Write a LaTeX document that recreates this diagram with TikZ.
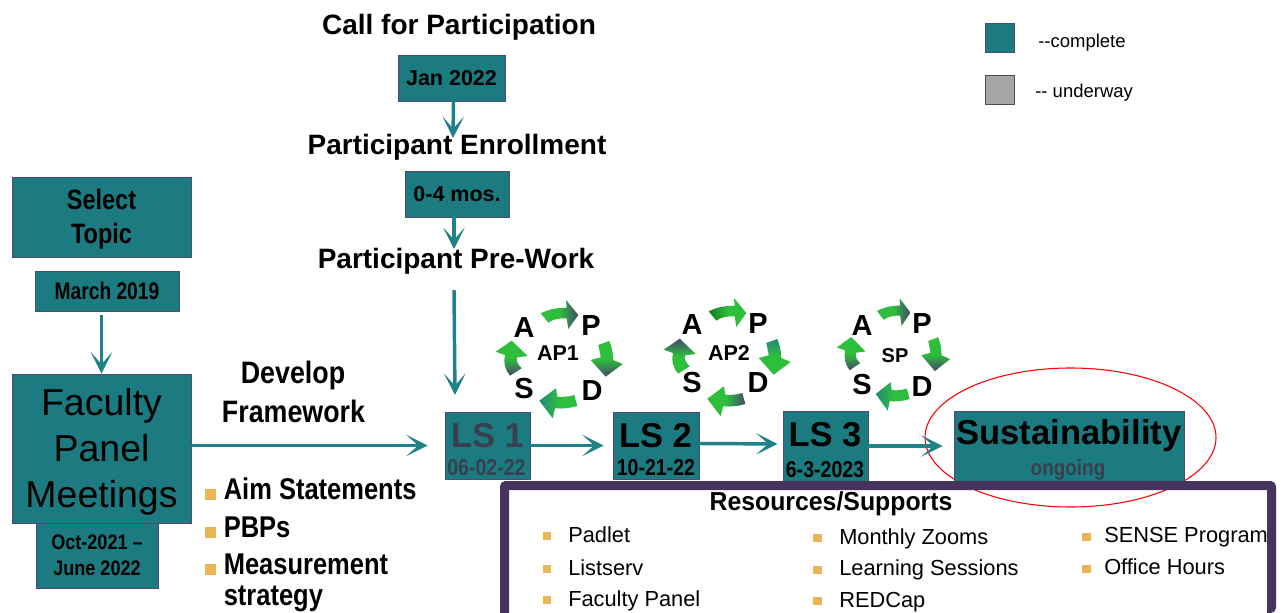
\documentclass[tikz,border=0pt]{standalone}
\usepackage{fontspec}
\usepackage{graphicx}
\setmainfont{Liberation Sans}
\usetikzlibrary{arrows.meta,shapes.geometric}
\definecolor{tealbox}{HTML}{1C7B80}
\definecolor{boxedge}{HTML}{4F4A7A}
\definecolor{panel}{HTML}{46345F}
\definecolor{arrowteal}{HTML}{1F8286}
\definecolor{bul}{HTML}{E8B654}
\definecolor{gr}{HTML}{2DBE3C}
\definecolor{dk}{HTML}{45486A}
\definecolor{dgr}{HTML}{0F7A1E}
\definecolor{tl}{HTML}{1F8A7A}
\definecolor{dim}{HTML}{36404F}
\definecolor{greybox}{HTML}{A6A6A6}
\newcommand\fpx[2]{\fontsize{\fpeval{#1*.75}}{\fpeval{#2*.75}}\selectfont}
\newcommand\cond[2]{\scalebox{#1}[1]{#2}}
\tikzset{
  x=0.75pt,y=-0.75pt,
  box/.style={draw=boxedge,line width=.7pt,fill=tealbox,inner sep=0pt,align=center,text=black},
  flow/.style={draw=arrowteal,line width=2.6pt,-{Stealth[length=16pt,width=16pt,inset=9pt]}},
  txt/.style={inner sep=0pt,anchor=base,font=\bfseries},
  ltxt/.style={inner sep=0pt,anchor=base west},
  bulletsq/.style={fill=bul,inner sep=0pt,draw=none},
}
\newcommand\cycarrows[5]{%
 \begin{scope}[#1]
  \shade[#2] (540.7,313.3) .. controls (552,308) and (558,308) .. (566.7,307.7) -- (566,300) -- (578.3,315) -- (568.3,329) -- (566.7,318.3) .. controls (560,318) and (553,319) .. (548.3,322.7) -- cycle;
  \shade[#3] (598.3,345) -- (609.3,341) .. controls (612,347) and (613,353) .. (613.3,360) -- (622.7,364) -- (605.7,376.7) -- (590.7,360) -- (600.7,357.3) .. controls (600,352) and (599,349) .. (598.3,345) -- cycle;
  \shade[#4] (577.3,406) -- (574.3,395) .. controls (568,397) and (563,397) .. (557.3,396.7) -- (556,388.3) -- (539.3,400.7) -- (552.7,418.3) -- (555,408.3) .. controls (563,409) and (571,408) .. (577.3,406) -- cycle;
  \shade[#5] (510,375.7) -- (521.7,368.3) .. controls (517,364) and (516,360) .. (517.3,357.3) -- (527.7,356) -- (511.7,340.7) -- (495.7,351.7) -- (505,355) .. controls (503,362) and (505,370) .. (510,375.7) -- cycle;
 \end{scope}}
\newcommand\cycletter[4]{\node[txt,font=\bfseries\fpx{29}{32}] (#1) at (#2,#3) {#4};}
\begin{document}
\begin{tikzpicture}
\useasboundingbox (0,0) rectangle (1282,613);
\fill[white] (0,0) rectangle (1282,613);

% ellipse first: boxes and panel lie over it
\node[draw=red,line width=.8pt,ellipse,inner sep=0pt,minimum width=218.25pt,minimum height=104.25pt] (halo) at (1070.5,437.5) {};

% left column
\node[box,minimum width=134.25pt,minimum height=60pt,font=\bfseries\fpx{28}{34}] (select) at (101.5,217) {\rule{0pt}{18pt}\cond{.84}{Select}\\\cond{.84}{Topic}};
\node[box,minimum width=108pt,minimum height=30pt,font=\bfseries\fpx{24}{28}] (march) at (107,291) {\cond{.8}{March 2019}};
\node[box,minimum width=91.5pt,minimum height=48.75pt,font=\bfseries\fpx{21}{25.5}] (oct) at (97,555.5) {\cond{.86}{Oct-2021 –}\\\cond{.86}{June 2022}};
\node[box,minimum width=134.25pt,minimum height=111.75pt,font=\fpx{37.5}{46}] (faculty) at (101.5,448.5) {\rule{0pt}{26pt}Faculty\\Panel\\Meetings};

% centre column
\node[txt,font=\bfseries\fpx{28}{32}] (call) at (459,35) {Call for Participation};
\node[box,minimum width=80.25pt,minimum height=34.5pt,font=\bfseries\fpx{21.5}{26}] (jan) at (451.5,78) {Jan 2022};
\node[txt,font=\bfseries\fpx{28}{32}] (enroll) at (457,155) {Participant Enrollment};
\node[box,minimum width=78pt,minimum height=34.5pt,font=\bfseries\fpx{21.5}{26}] (zero) at (457,194) {0-4 mos.};
\node[txt,font=\bfseries\fpx{28}{32}] (prework) at (456,268) {Participant Pre-Work};
\coordinate (enrolltip) at (453,138);
\coordinate (zerotip) at (454,249);
\coordinate (preworkend) at (454,290);
\coordinate (lstip) at (455,395);

% develop framework
\node[txt,font=\bfseries\fpx{31}{36}] (develop) at (293,383) {\cond{.865}{Develop}};
\node[txt,font=\bfseries\fpx{31}{36}] (framework) at (293.5,422) {\cond{.865}{Framework}};
\foreach \n/\yb/\yt/\t in {a/494/499/Aim Statements,b/532/537/PBPs,c/569/574/Measurement}{
  \node[bulletsq,minimum width=8.25pt,minimum height=8.25pt] (fb\n) at (210.5,\yb) {};
  \node[ltxt,font=\bfseries\fpx{30}{34}] (ft\n) at (223.5,\yt) {\cond{.85}{\t}};
}
\node[ltxt,font=\bfseries\fpx{30}{34}] (ftd) at (223.5,605) {\cond{.85}{strategy}};

% learning sessions
\node[box,minimum width=63.75pt,minimum height=50.25pt] (lsone) at (487.5,445.5) {};
\node[box,minimum width=64.5pt,minimum height=50.25pt] (lstwo) at (656,445.5) {};
\node[box,minimum width=63.75pt,minimum height=52.5pt] (lsthree) at (825.5,446) {};
\node[box,minimum width=172.5pt,minimum height=52.5pt] (sust) at (1069,446) {};
\node[txt,text=dim,font=\bfseries\fpx{34.5}{38}] (lsonet) at (487.5,447) {LS 1};
\node[txt,text=dim,font=\bfseries\fpx{23}{26}] (lsoned) at (486.5,475) {\cond{.85}{06-02-22}};
\node[txt,font=\bfseries\fpx{34.5}{38}] (lstwot) at (655.5,447) {LS 2};
\node[txt,font=\bfseries\fpx{23}{26}] (lstwod) at (656,475) {\cond{.85}{10-21-22}};
\node[txt,font=\bfseries\fpx{34.5}{38}] (lsthreet) at (825,446) {LS 3};
\node[txt,font=\bfseries\fpx{23}{26}] (lsthreed) at (825,477) {\cond{.85}{6-3-2023}};
\node[txt,font=\bfseries\fpx{34.6}{40}] (sustt) at (1069,444) {Sustainability};
\node[txt,text=dim,font=\bfseries\fpx{22}{26}] (sustd) at (1068,475) {\cond{.86}{ongoing}};

% connectors
\draw[flow] ([xshift=1.5pt]jan.south) -- (enrolltip);
\draw[flow] ([xshift=-2.25pt]zero.south) -- (zerotip);
\draw[flow] (preworkend) -- (lstip);
\draw[flow,shorten <=3pt] (march.south -| faculty.north) -- (faculty.north);
\draw[flow,shorten >=12.75pt] (faculty.east |- lsone.west) -- (lsone.west);
\draw[flow,shorten >=6.75pt] (lsone.east) -- (lstwo.west);
\draw[flow,shorten >=3.75pt] ([yshift=1.5pt]lstwo.east) -- ([yshift=1.5pt]lsthree.west);
\draw[flow,shorten >=8.25pt] (lsthree.east) -- (sust.west);

% PDSA cycles
\cycarrows{}{left color=gr,right color=dk,middle color=gr}{top color=gr,bottom color=dk,middle color=gr}{right color=gr,left color=tl,middle color=gr}{bottom color=dk,top color=gr,middle color=gr}
\cycarrows{shift={(168,-2)}}{left color=dgr,right color=gr,middle color=gr}{top color=tl,bottom color=gr,middle color=gr}{left color=gr,right color=dk,middle color=gr}{bottom color=gr,top color=dk,middle color=gr}
\cycarrows{shift={(395.8,13.3)},xscale=.89,yscale=.95}{left color=gr,right color=dk,middle color=gr}{top color=gr,bottom color=dk,middle color=gr}{right color=gr,left color=tl,middle color=gr}{bottom color=dk,top color=gr,middle color=gr}
\cycletter{aa}{524}{337}{A}\cycletter{ap}{591}{335}{P}\cycletter{as}{524}{398}{S}\cycletter{ad}{592}{400}{D}
\cycletter{ba}{692}{334}{A}\cycletter{bp}{758}{333}{P}\cycletter{bs}{692}{392}{S}\cycletter{bd}{758}{392}{D}
\cycletter{ca}{862}{335}{A}\cycletter{cp}{922}{333}{P}\cycletter{cs}{862}{394}{S}\cycletter{cd}{922}{396}{D}
\node[txt,font=\bfseries\fpx{21.5}{24}] (cyca) at (558,360) {AP1};
\node[txt,font=\bfseries\fpx{21.5}{24}] (cycb) at (729,360) {AP2};
\node[txt,font=\bfseries\fpx{20}{24}] (cycc) at (895,362) {SP};

% legend
\node[box,draw=boxedge,minimum width=21.75pt,minimum height=21.75pt] (legc) at (999.5,37.5) {};
\node[box,draw=black!70,fill=greybox,minimum width=21.75pt,minimum height=21.75pt] (legu) at (999.5,89.5) {};
\node[ltxt,font=\fpx{18.5}{22}] (legct) at (1038,48) {-{}-complete};
\node[ltxt,font=\fpx{18.5}{22}] (legut) at (1035,98) {-{}- underway};

% resources panel contents
\node[txt,font=\bfseries\fpx{26}{30}] (restitle) at (831,510) {\cond{.955}{Resources/Supports}};
\foreach \i/\xb/\yb/\xt/\yt/\t in {
  a/547/536/568/542/Padlet,
  b/547/569/568/575/Listserv,
  c/547/600/568/606/Faculty Panel,
  d/817.5/538/839/544/Monthly Zooms,
  e/817.5/570/839/575/Learning Sessions,
  f/817.5/601/839/607/REDCap,
  g/1086.5/537/1104/542/SENSE Program,
  h/1086.5/569/1104/574/Office Hours}{
  \node[bulletsq,minimum width=6.5pt,minimum height=6.5pt] (rb\i) at (\xb,\yb) {};
  \node[ltxt,font=\fpx{21.8}{26}] (rt\i) at (\xt,\yt) {\t};
}

% panel frame, open at the picture's lower edge
\fill[panel] (500,613) {[rounded corners=4pt] -- (500,481) -- (1276,481) -- (1276,613)} -- (1267,613) -- (1267,490) -- (509,490) -- (509,613) -- cycle;
\end{tikzpicture}
\end{document}
